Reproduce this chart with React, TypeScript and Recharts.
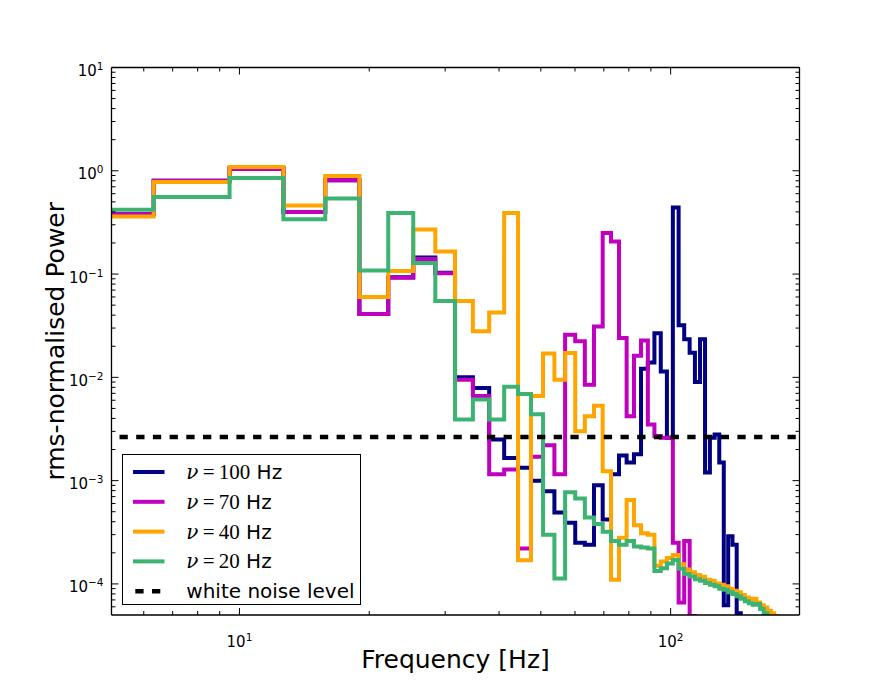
import React from "react";
import { LineChart, Line, XAxis, YAxis, ReferenceLine, Legend } from "recharts";

// left edge of each frequency bin (Hz), bins are ~3.16 Hz wide
const freqs = [
  3.162, 6.325, 9.487, 12.649, 15.811, 18.974, 22.136, 25.298, 28.46, 31.623,
  34.785, 37.947, 41.11, 44.272, 47.434, 50.596, 53.759, 56.921, 60.083, 63.246,
  66.408, 69.57, 72.732, 75.895, 79.057, 82.219, 85.381, 88.544, 91.706, 94.868,
  98.031, 101.193, 104.355, 107.517, 110.68, 113.842, 117.004, 120.167, 123.329, 126.491,
  129.653, 132.816, 135.978, 139.14, 142.302, 145.465, 148.627, 151.789, 154.952, 158.114,
  161.276, 164.438, 167.601, 170.763, 173.925, 177.088, 180.25, 183.412, 186.574, 189.737,
  192.899, 196.061, 199.224,
];

// rms-normalised power per bin
const power100 = [
  0.38, 0.8, 1.06, 0.4, 0.81, 0.041, 0.093, 0.145, 0.103, 0.01,
  0.0079, 0.0025, 0.00166, 0.00133, 0.001, 0.00079, 0.00049, 0.00039, 0.00025, 0.00024,
  0.0009, 0.00042, 0.00115, 0.00175, 0.0015, 0.0018, 0.0121, 0.0139, 0.0268, 0.0114,
  0.0026, 0.44, 0.032, 0.0234, 0.0173, 0.009, 0.0234, 0.0012, 0.0026, 0.0028,
  0.0015, 0.000062, 0.00029, 0.00024, 0.000052, 0.000031, 0.00003, 0.000029, 0.00003, 0.000028,
  0.00003, 0.000029, 0.00003, 0.000028, 0.00003, 0.000029, 0.00003, 0.000028, 0.00003, 0.000029,
  0.00003, 0.000028, 0.00003,
];

const power70 = [
  0.38, 0.8, 1.04, 0.4, 0.81, 0.041, 0.092, 0.14, 0.102, 0.0095,
  0.0066, 0.00115, 0.00128, 0.00022, 0.0017, 0.0022, 0.00115, 0.0259, 0.0223, 0.0085,
  0.031, 0.25, 0.207, 0.024, 0.0042, 0.0162, 0.0228, 0.0035, 0.0027, 0.0026,
  0.0026, 0.00025, 0.000066, 0.00026, 0.000049, 0.00003, 0.000029, 0.00003, 0.000028, 0.00003,
  0.000029, 0.00003, 0.000028, 0.00003, 0.000029, 0.00003, 0.000028, 0.00003, 0.000029, 0.00003,
  0.000028, 0.00003, 0.000029, 0.00003, 0.000028, 0.00003, 0.000029, 0.00003, 0.000028, 0.00003,
  0.000029, 0.00003, 0.000028,
];

const power40 = [
  0.36, 0.78, 1.09, 0.46, 0.89, 0.06, 0.107, 0.27, 0.165, 0.055,
  0.028, 0.0425, 0.39, 0.000169, 0.0066, 0.017, 0.0095, 0.0172, 0.003, 0.0042,
  0.0053, 0.00123, 0.00011, 0.00028, 0.00065, 0.00037, 0.00031, 0.0003, 0.00015, 0.000165,
  0.000178, 0.00019, 0.000155, 0.000138, 0.00013, 0.000122, 0.000117, 0.00011, 0.000107, 0.000101,
  0.000098, 0.000095, 0.00009, 0.000086, 0.000083, 0.000078, 0.000074, 0.000071, 0.000072, 0.000066,
  0.000062, 0.000059, 0.000055, 0.000052, 0.000049, 0.000046, 0.000044, 0.000042, 0.00004, 0.000038,
  0.000036, 0.000035, 0.000034,
];

const power20 = [
  0.42, 0.556, 0.85, 0.34, 0.54, 0.108, 0.39, 0.128, 0.055, 0.0039,
  0.0061, 0.0039, 0.0081, 0.0069, 0.0044, 0.0003, 0.000113, 0.00077, 0.00067, 0.00044,
  0.00038, 0.00032, 0.00026, 0.00024, 0.00026, 0.00023, 0.000225, 0.00022, 0.000133, 0.000142,
  0.000158, 0.00017, 0.00014, 0.000125, 0.000118, 0.000111, 0.000107, 0.000102, 0.000098, 0.000095,
  0.00009, 0.000088, 0.000083, 0.00008, 0.000076, 0.000072, 0.000068, 0.000065, 0.000063, 0.000064,
  0.000057, 0.000052, 0.000047, 0.000044, 0.000041, 0.000039, 0.000037, 0.000035, 0.000034, 0.000033,
  0.000032, 0.000031, 0.00003,
];

const whiteNoiseLevel = 0.00265;

const series = [
  { key: "p100", nu: "100", color: "#000080", values: power100 },
  { key: "p70", nu: "70", color: "#bf00bf", values: power70 },
  { key: "p40", nu: "40", color: "#ffa500", values: power40 },
  { key: "p20", nu: "20", color: "#3cb371", values: power20 },
];

const xDomain = [5.05, 199];
const yDomain = [5e-5, 10];
const xTicks = [6, 7, 8, 9, 10, 20, 30, 40, 50, 60, 70, 80, 90, 100];
const yDecades = [1e-5, 1e-4, 1e-3, 1e-2, 1e-1, 1];
const yTicks = yDecades
  .flatMap((d) => [1, 2, 3, 4, 5, 6, 7, 8, 9].map((m) => m * d))
  .filter((v) => v > 5.01e-5)
  .concat([10]);

const data = freqs.map((f, i) => {
  const row: Record<string, number> = { f };
  series.forEach((s) => (row[s.key] = s.values[i]));
  return row;
});

// plot area: x 111.5..799.5, y 67.5..615
const margin = { top: 66.5, right: 87.5, bottom: 38, left: 61.5 };
const sans = "'DejaVu Sans', sans-serif";
const serif = "'DejaVu Serif', serif";

const isDecade = (v: number) => Math.abs(Math.log10(v) - Math.round(Math.log10(v))) < 1e-6;
const expText = (v: number) => {
  const e = Math.round(Math.log10(v));
  return e < 0 ? "\u2212" + Math.abs(e) : String(e);
};

function AxisTick(props: any) {
  const { x, y, payload, side } = props;
  const v = payload.value;
  const major = isDecade(v);
  const len = major ? 7 : 4;
  let x2 = x;
  let y2 = y;
  if (side === "bottom") y2 = y - len;
  else if (side === "top") y2 = y + len;
  else if (side === "left") x2 = x + len;
  else x2 = x - len;
  return (
    <g>
      <line x1={x} y1={y} x2={x2} y2={y2} stroke="#000" strokeWidth={1} />
      {major && side === "bottom" && (
        <text x={x} y={y + 32} textAnchor="middle" fontFamily={sans} fontSize={15} fill="#000">
          10<tspan dy={-6} fontSize={10.5}>{expText(v)}</tspan>
        </text>
      )}
      {major && side === "left" && (
        <text x={x - 8} y={y + 8.5} textAnchor="end" fontFamily={sans} fontSize={15} fill="#000">
          10<tspan dy={-6} fontSize={10.5}>{expText(v)}</tspan>
        </text>
      )}
    </g>
  );
}

function LegendBox() {
  const rowY = (i: number) => 17 + 29.8 * i;
  return (
    <div style={{ width: 239, height: 151, boxSizing: "border-box", border: "1.3px solid #000", background: "#fff" }}>
      <svg width={237} height={149} style={{ display: "block" }}>
        {series.map((s, i) => (
          <g key={s.key}>
            <line x1={10} x2={41.5} y1={rowY(i)} y2={rowY(i)} stroke={s.color} strokeWidth={4} />
            <text x={63.3} y={rowY(i) + 7} fill="#000">
              <tspan fontFamily={serif} fontStyle="italic" fontSize={20}>ν</tspan>
              <tspan fontFamily="'Liberation Serif', serif" fontSize={21}>{"\u2009=\u2009"}{s.nu}</tspan>
              <tspan fontFamily={sans} fontSize={20}> Hz</tspan>
            </text>
          </g>
        ))}
        <line x1={12.3} x2={37.3} y1={rowY(4)} y2={rowY(4)} stroke="#000" strokeWidth={4.5} strokeDasharray="8.3 8.4" />
        <text x={63.3} y={rowY(4) + 7} fontFamily={sans} fontSize={20} fill="#000">
          white noise level
        </text>
      </svg>
    </div>
  );
}

export default function App() {
  const axisLine = { stroke: "#000", strokeWidth: 1.3 };
  return (
    <div style={{ position: "absolute", left: 0, top: 0, width: 888, height: 683, background: "#fff" }}>
      <LineChart width={888} height={683} data={data} margin={margin}>
        <XAxis
          dataKey="f"
          type="number"
          scale="log"
          domain={xDomain}
          allowDataOverflow
          ticks={xTicks}
          interval={0}
          height={30}
          tickSize={0}
          tickMargin={0}
          axisLine={axisLine}
          tickLine={false}
          tick={(p: any) => <AxisTick {...p} side="bottom" />}
        />
        <XAxis
          xAxisId="top"
          orientation="top"
          dataKey="f"
          type="number"
          scale="log"
          domain={xDomain}
          allowDataOverflow
          ticks={xTicks}
          interval={0}
          height={1}
          tickSize={0}
          tickMargin={0}
          axisLine={axisLine}
          tickLine={false}
          tick={(p: any) => <AxisTick {...p} side="top" />}
        />
        <YAxis
          type="number"
          scale="log"
          domain={yDomain}
          allowDataOverflow
          ticks={yTicks}
          interval={0}
          width={50}
          tickSize={0}
          tickMargin={0}
          axisLine={axisLine}
          tickLine={false}
          tick={(p: any) => <AxisTick {...p} side="left" />}
        />
        <YAxis
          yAxisId="right"
          orientation="right"
          type="number"
          scale="log"
          domain={yDomain}
          allowDataOverflow
          ticks={yTicks}
          interval={0}
          width={1}
          tickSize={0}
          tickMargin={0}
          axisLine={axisLine}
          tickLine={false}
          tick={(p: any) => <AxisTick {...p} side="right" />}
        />
        {series.map((s) => (
          <Line
            key={s.key}
            dataKey={s.key}
            type="stepAfter"
            stroke={s.color}
            strokeWidth={4}
            dot={false}
            activeDot={false}
            isAnimationActive={false}
          />
        ))}
        <ReferenceLine
          y={whiteNoiseLevel}
          stroke="#000"
          strokeWidth={4.5}
          strokeDasharray="8.3 8.4"
          strokeDashoffset={8.7}
        />
        <Legend
          layout="vertical"
          align="center"
          verticalAlign="middle"
          content={() => <LegendBox />}
          wrapperStyle={{ left: 121.5, top: 454, width: 239, height: 151 }}
        />
      </LineChart>
      <svg width={888} height={683} style={{ position: "absolute", left: 0, top: 0, pointerEvents: "none" }}>
        <text x={455.5} y={668} textAnchor="middle" fontFamily={sans} fontSize={25} fill="#000">
          Frequency [Hz]
        </text>
        <text
          x={0}
          y={0}
          transform="translate(64, 341.3) rotate(-90)"
          textAnchor="middle"
          fontFamily={sans}
          fontSize={25}
          fill="#000"
        >
          rms-normalised Power
        </text>
      </svg>
    </div>
  );
}
